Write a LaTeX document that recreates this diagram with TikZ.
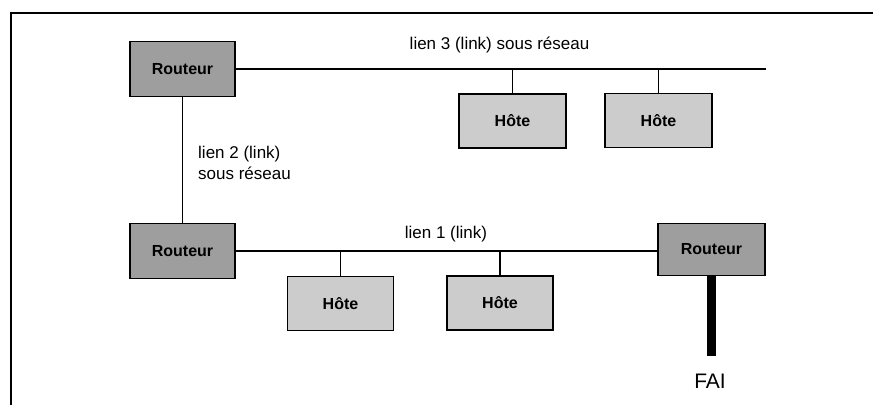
\documentclass[tikz,border=0pt]{standalone}
\usepackage{fontspec}
\setmainfont{Liberation Sans}
\begin{document}
\begin{tikzpicture}[x=1pt,y=-1pt,
  routerbox/.style={draw=black,line width=1.6pt,fill=black!38,minimum width=105pt,minimum height=55pt,inner sep=0pt,font=\fontsize{16}{19}\selectfont\bfseries},
  hostbox/.style={draw=black,line width=1.6pt,fill=black!20,minimum width=106pt,minimum height=54pt,inner sep=0pt,font=\fontsize{16}{19}\selectfont\bfseries},
  wire/.style={line width=1.8pt},
  lbl/.style={inner sep=0pt,font=\fontsize{17}{21}\selectfont}]
\useasboundingbox (0,0) rectangle (873,405);
\fill[white] (0,0) rectangle (873,405);
% frame
\draw[line width=1.8pt] (11,405) -- (11,13) -- (873,13);
% nodes
\node[routerbox] (r1) at (182.5,69) {Routeur};
\node[routerbox] (r2) at (182.5,251) {Routeur};
\node[routerbox,minimum width=107pt,minimum height=52pt] (r3) at (711.5,249.5) {Routeur};
\node[hostbox,minimum width=107pt] (h1) at (512.5,121) {Hôte};
\node[hostbox,minimum width=107pt] (h2) at (658.5,120.5) {Hôte};
\node[hostbox] (h3) at (340.5,303.5) {Hôte};
\node[hostbox] (h4) at (500,303) {Hôte};
\coordinate (l3end) at (766,69);
\coordinate (faiend) at (711.5,356);
% wires
\draw[wire] (r1.east) -- (l3end);
\draw[wire] (h1.north) -- (h1.north |- l3end);
\draw[wire] (h2.north) -- (h2.north |- l3end);
\draw[wire] (r1.south) -- (r2.north);
\draw[wire] (r2.east) -- (r2.east -| r3.west);
\draw[wire] (h3.north) -- (h3.north |- r2.east);
\draw[wire] (h4.north) -- (h4.north |- r2.east);
\draw[line width=9pt] (r3.south) -- (faiend);
% labels
\node[lbl] (t3) at (499.5,45) {lien 3 (link) sous réseau};
\node[lbl,anchor=west,align=left,font=\fontsize{17}{21}\selectfont] (t2) at (198,163) {lien 2 (link)\\sous réseau};
\node[lbl] (t1) at (446,234) {lien 1 (link)};
\node[lbl,font=\fontsize{21}{24}\selectfont] (fai) at (710,381) {FAI};
\end{tikzpicture}
\end{document}
